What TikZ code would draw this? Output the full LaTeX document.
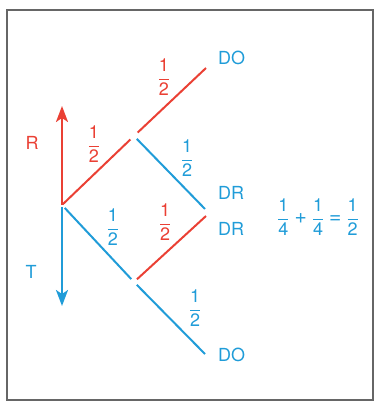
\documentclass[tikz,border=0pt]{standalone}
\usepackage{fontspec}
\setmainfont{TeX Gyre Heros}
\usetikzlibrary{arrows.meta}

\definecolor{rayred}{RGB}{234,64,52}
\definecolor{rayblue}{RGB}{32,156,216}
\newcommand{\pfrac}[2]{$\displaystyle\frac{\mbox{#1}}{\mbox{#2}}$}
\newcommand{\opsym}[1]{\hspace{5pt}{\fontsize{21}{21}\selectfont#1}\hspace{5pt}}

\begin{document}
\begin{tikzpicture}[
    x=1pt, y=-1pt,
    redray/.style={rayred, line width=2pt},
    blueray/.style={rayblue, line width=2pt},
    bigarrow/.style={line width=2.2pt, -{Stealth[length=16pt, width=12pt, inset=4pt]}},
    lbl/.style={font=\fontsize{18}{20}\selectfont, inner sep=1pt},
    redlbl/.style={lbl, text=rayred},
    bluelbl/.style={lbl, text=rayblue}
]
\useasboundingbox (0,0) rectangle (374,403);

% Frame
\draw[black!60, line width=1.2pt] (7,10) rectangle (373,400);

% Branch points and ends
\coordinate (O) at (62,205);
\coordinate (A) at (134,136);
\coordinate (B) at (134,282);
\coordinate (endDOt) at (206,68);
\coordinate (endDRa) at (205,209);
\coordinate (endDRb) at (206,216);
\coordinate (endDOb) at (205,354);

% Reflection and transmission arrows
\draw[bigarrow, rayred] (O) -- (62,106);
\draw[bigarrow, rayblue] (62,207) -- (62,306);

% Rays
\draw[redray, shorten <=1pt, shorten >=5pt] (O) -- (A);
\draw[redray, shorten <=5pt] (A) -- (endDOt);
\draw[blueray, shorten <=4pt] (A) -- (endDRa);
\draw[blueray, shorten <=4pt, shorten >=4pt] (O) -- (B);
\draw[redray, shorten <=4pt] (B) -- (endDRb);
\draw[blueray, shorten <=4pt] (B) -- (endDOb);

% Detector labels
\node[bluelbl, anchor=west] (doTop) at (217,58) {DO};
\node[bluelbl, anchor=west] (drTop) at (217,193) {DR};
\node[bluelbl, anchor=west] (drBot) at (217,229) {DR};
\node[bluelbl, anchor=west] (doBot) at (217,355) {DO};
\node[redlbl] (lblR) at (32,143) {R};
\node[bluelbl] (lblT) at (31,272) {T};

% Probabilities
\node[redlbl] (fA) at (164,77) {\pfrac{1}{2}};
\node[redlbl] (fO) at (94,144) {\pfrac{1}{2}};
\node[bluelbl] (fAb) at (187,158) {\pfrac{1}{2}};
\node[bluelbl] (fOb) at (113,227) {\pfrac{1}{2}};
\node[redlbl] (fB) at (165,222) {\pfrac{1}{2}};
\node[bluelbl] (fBb) at (195,308) {\pfrac{1}{2}};
\node[bluelbl] (eq) at (318,217) {\pfrac{1}{4}\opsym{+}\pfrac{1}{4}\opsym{=}\pfrac{1}{2}};

\end{tikzpicture}
\end{document}
